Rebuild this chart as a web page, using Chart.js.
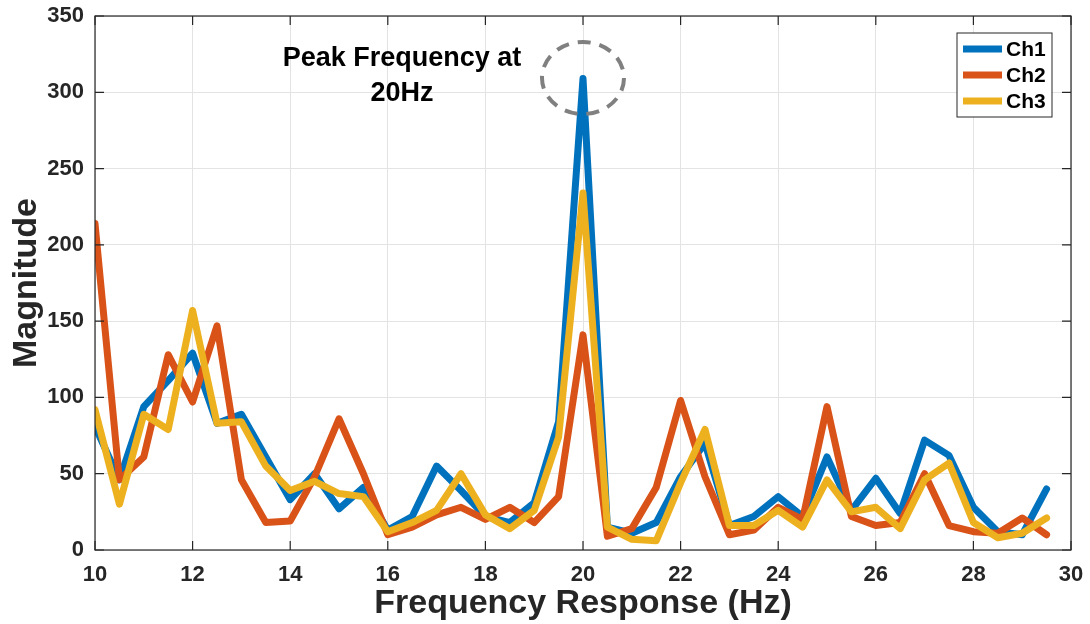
<!DOCTYPE html>
<html>
<head>
<meta charset="utf-8">
<script src="https://cdn.jsdelivr.net/npm/chart.js@4.4.1/dist/chart.umd.min.js"></script>
<style>
  html, body { margin: 0; padding: 0; background: #fff; }
  #wrap { width: 1090px; height: 624px; }
</style>
</head>
<body>
<div id="wrap"><canvas id="myChart" width="1090" height="624"></canvas></div>
<script>
// frequency bins (Hz)
var freqs = [10, 10.5, 11, 11.5, 12, 12.5, 13, 13.5, 14, 14.5,
             15, 15.5, 16, 16.5, 17, 17.5, 18, 18.5, 19, 19.5,
             20, 20.5, 21, 21.5, 22, 22.5, 23, 23.5, 24, 24.5,
             25, 25.5, 26, 26.5, 27, 27.5, 28, 28.5, 29, 29.5];

var ch1 = [81, 46, 94, 111, 129, 83, 89, 61, 33, 50,
           27, 41, 13, 22, 55, 39, 22, 18, 31, 84,
           309, 15, 11, 18, 48, 70, 16, 22, 35, 22,
           61, 26, 47, 24, 72, 62, 28, 12, 10, 40];

var ch2 = [214, 46, 61, 128, 97, 147, 46, 18, 19, 48,
           86, 50, 10, 15, 23, 28, 20, 28, 18, 35,
           141, 9, 14, 41, 98, 48, 10, 13, 28, 20,
           94, 22, 16, 18, 50, 16, 12, 11, 21, 10];

var ch3 = [92, 30, 89, 79, 157, 83, 84, 55, 39, 45,
           37, 35, 12, 18, 26, 50, 23, 14, 26, 74,
           234, 15, 7, 6, 44, 79, 16, 16, 26, 15,
           46, 25, 28, 14, 46, 57, 18, 8, 11, 21];

var xTicks = [10, 12, 14, 16, 18, 20, 22, 24, 26, 28, 30];
var yTicks = [0, 50, 100, 150, 200, 250, 300, 350];

var seriesNames = ['Ch1', 'Ch2', 'Ch3'];
var seriesColors = ['#0072BD', '#D95319', '#EDB120'];

function toPoints(ys) {
    return ys.map(function(v, i) { return {x: freqs[i], y: v}; });
}

var FONT = "'Liberation Sans', Arial, Helvetica, sans-serif";

// box, inward ticks, annotation and legend, MATLAB style
var extras = {
    id: 'extras',
    afterDatasetsDraw: function(chart) {
        var ctx = chart.ctx;
        var a = chart.chartArea;
        var xs = chart.scales.x, ys = chart.scales.y;
        ctx.save();

        // peak marker (dashed ellipse)
        var cx = xs.getPixelForValue(20);
        ctx.strokeStyle = '#808080';
        ctx.lineWidth = 4;
        ctx.setLineDash([13, 9]);
        ctx.beginPath();
        ctx.ellipse(cx, 78, 41, 36, 0, 0, Math.PI * 2);
        ctx.stroke();
        ctx.setLineDash([]);

        // annotation text
        ctx.fillStyle = '#000';
        ctx.font = 'bold 27px ' + FONT;
        ctx.textAlign = 'center';
        ctx.textBaseline = 'middle';
        ctx.fillText('Peak Frequency at', 402, 59);
        ctx.fillText('20Hz', 402, 94);

        // axes box
        ctx.strokeStyle = '#262626';
        ctx.lineWidth = 1.2;
        ctx.strokeRect(a.left, a.top, a.right - a.left, a.bottom - a.top);

        // inward ticks
        ctx.beginPath();
        xTicks.forEach(function(t) {
            var px = xs.getPixelForValue(t);
            ctx.moveTo(px, a.bottom); ctx.lineTo(px, a.bottom - 9);
            ctx.moveTo(px, a.top); ctx.lineTo(px, a.top + 9);
        });
        yTicks.forEach(function(t) {
            var py = ys.getPixelForValue(t);
            ctx.moveTo(a.left, py); ctx.lineTo(a.left + 9, py);
            ctx.moveTo(a.right, py); ctx.lineTo(a.right - 9, py);
        });
        ctx.stroke();

        // legend
        var lx = 957, ly = 33, lw = 95, lh = 84;
        ctx.fillStyle = '#fff';
        ctx.fillRect(lx, ly, lw, lh);
        ctx.strokeStyle = '#262626';
        ctx.lineWidth = 1;
        ctx.strokeRect(lx, ly, lw, lh);
        ctx.font = 'bold 21px ' + FONT;
        ctx.textAlign = 'left';
        for (var i = 0; i < seriesNames.length; i++) {
            var yy = ly + 16 + i * 26;
            ctx.strokeStyle = seriesColors[i];
            ctx.lineWidth = 7;
            ctx.beginPath();
            ctx.moveTo(lx + 6, yy);
            ctx.lineTo(lx + 45, yy);
            ctx.stroke();
            ctx.fillStyle = '#000';
            ctx.fillText(seriesNames[i], lx + 49, yy + 1);
        }
        ctx.restore();
    }
};

var datasets = [ch1, ch2, ch3].map(function(ys, i) {
    return {
        label: seriesNames[i],
        data: toPoints(ys),
        borderColor: seriesColors[i],
        backgroundColor: seriesColors[i],
        borderWidth: 7,
        borderJoinStyle: 'round',
        borderCapStyle: 'round',
        pointRadius: 0,
        tension: 0,
        order: 3 - i
    };
});

var ctx = document.getElementById('myChart').getContext('2d');
var myChart = new Chart(ctx, {
    type: 'line',
    data: { datasets: datasets },
    options: {
        responsive: false,
        animation: false,
        layout: { padding: { top: 16, right: 19, left: 0, bottom: 0 } },
        plugins: { legend: { display: false }, tooltip: { enabled: false } },
        scales: {
            x: {
                type: 'linear',
                min: 10, max: 30,
                afterBuildTicks: function(s) { s.ticks = xTicks.map(function(v) { return {value: v}; }); },
                afterFit: function(s) { s.height = 74; s.paddingLeft = 0; s.paddingRight = 0; },
                grid: { color: '#e3e3e3', drawTicks: false },
                border: { display: false },
                ticks: { color: '#262626', padding: 12, maxRotation: 0,
                         font: { family: FONT, size: 22, weight: 'bold' } },
                title: { display: true, text: 'Frequency Response (Hz)', color: '#262626',
                         padding: { top: 0, bottom: 0 },
                         font: { family: FONT, size: 34, weight: 'bold' } }
            },
            y: {
                min: 0, max: 350,
                afterBuildTicks: function(s) { s.ticks = yTicks.map(function(v) { return {value: v}; }); },
                afterFit: function(s) { s.width = 95; s.paddingTop = 0; s.paddingBottom = 0; },
                grid: { color: '#e3e3e3', drawTicks: false },
                border: { display: false },
                ticks: { color: '#262626', padding: 11,
                         font: { family: FONT, size: 22, weight: 'bold' } },
                title: { display: true, text: 'Magnitude', color: '#262626',
                         padding: { top: 6, bottom: 0 },
                         font: { family: FONT, size: 34, weight: 'bold' } }
            }
        }
    },
    plugins: [extras]
});
</script>
</body>
</html>
